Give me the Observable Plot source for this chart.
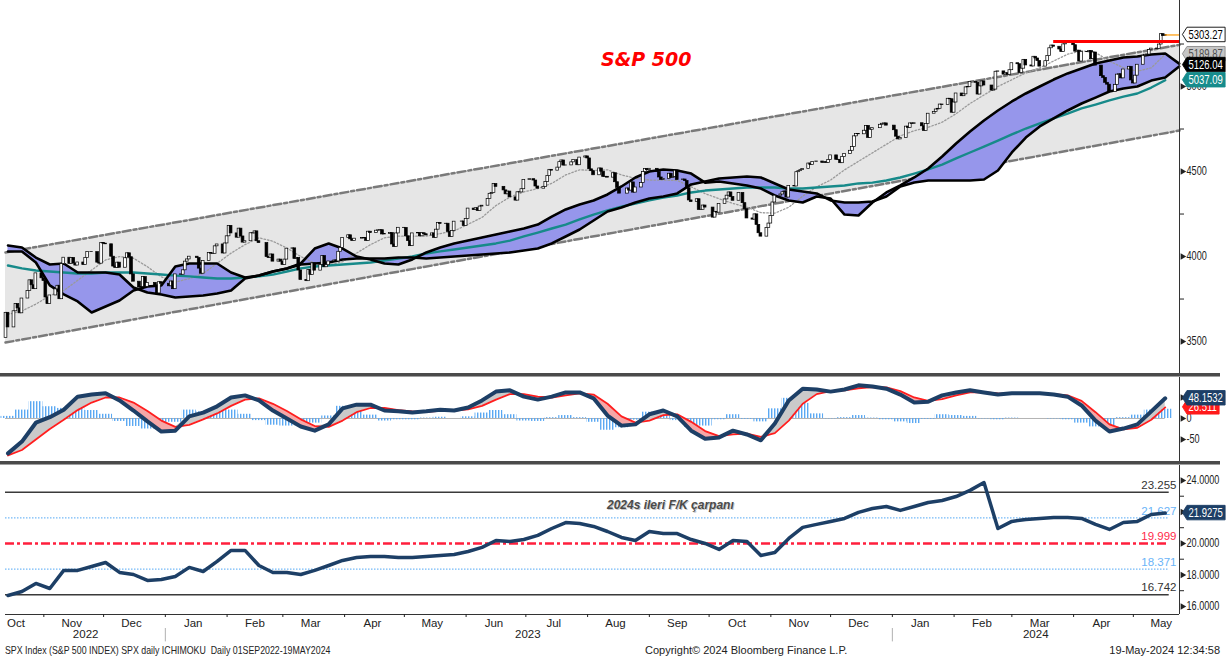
<!DOCTYPE html>
<html><head><meta charset="utf-8">
<script src="https://cdn.jsdelivr.net/npm/d3@7"></script>
<script src="https://cdn.jsdelivr.net/npm/@observablehq/plot@0.6"></script>
<style>
body{margin:0;background:#fff;}
#chart{position:relative;width:1230px;height:666px;overflow:hidden;background:#fff;
 font-family:"Liberation Sans",sans-serif;color:#222;}
.panel{position:absolute;left:0;width:1230px;}
.sep{position:absolute;left:0;width:1220px;height:3px;background:#4a4a4a;border-bottom:1px solid #a0a0a0;}
.title{position:absolute;left:601px;top:48px;font:italic bold 19px "DejaVu Sans",sans-serif;color:#ff0000;}
.petitle{position:absolute;left:607px;top:498px;font-style:italic;font-weight:bold;font-size:12px;color:#4a4a4a;text-shadow:1px 1px 0 #c8c8c8;}
.foot{position:absolute;top:644px;font-size:11px;color:#222;white-space:pre;}
</style></head>
<body><div id="chart">
<div id="p1" class="panel" style="top:0"></div>
<div id="p2" class="panel" style="top:377px"></div>
<div id="p3" class="panel" style="top:465px"></div>
<div class="sep" style="top:373px"></div>
<div class="sep" style="top:461px"></div>
<div class="title">S&amp;P 500</div>
<div class="petitle">2024s ileri F/K çarpanı</div>
<div class="foot" style="left:5px;transform:scaleX(0.8);transform-origin:0 0">SPX Index (S&amp;P 500 INDEX) SPX daily ICHIMOKU  Daily 01SEP2022-19MAY2024</div>
<div class="foot" style="left:645px">Copyright© 2024 Bloomberg Finance L.P.</div>
<div class="foot" style="right:10px">19-May-2024 12:34:58</div>
</div>
<script>
// ---------------- DATA ----------------
const holidays = ["2022-11-24","2022-12-26","2023-01-02","2023-01-16","2023-02-20","2023-04-07","2023-05-29","2023-06-19","2023-07-04","2023-09-04","2023-11-23","2023-12-25","2024-01-01","2024-01-15","2024-02-19","2024-03-29"];
const firstDay = "2022-10-13";
const firstOpen = 3520;
// daily closes, month by month
const closes = [
 3669,3583,3678,3720,3695,3666,3753,3798,3860,3831,3808,3901,3872,
 3856,3759,3720,3771,3807,3828,3749,3956,3993,3957,3992,3959,3947,3965,3950,3992,4027,4026,3964,3958,4080,
 4076,4072,3999,3941,3933,3964,3934,3990,4019,3996,3895,3852,3818,3821,3879,3822,3845,3829,3783,3849,3840,
 3825,3853,3808,3895,3893,3919,3970,3983,3999,3991,3929,3899,3973,4020,4017,4016,4060,4071,4018,4077,
 4119,4180,4136,4111,4164,4118,4082,4090,4137,4136,4148,4090,4079,3997,3991,4012,3970,3982,3970,
 3951,3982,4046,4048,3986,3992,3918,3862,3855,3920,3892,3960,3917,3951,4003,3937,3949,3971,3977,3971,4028,4051,4109,
 4125,4101,4091,4105,4109,4108,4092,4146,4138,4152,4154,4155,4130,4133,4138,4071,4056,4136,4169,
 4168,4119,4091,4061,4136,4138,4119,4137,4131,4124,4136,4110,4158,4198,4192,4193,4145,4115,4151,4205,4206,4180,
 4221,4282,4273,4284,4268,4294,4299,4338,4369,4373,4426,4410,4389,4366,4382,4348,4329,4378,4377,4396,4450,
 4455,4447,4412,4399,4410,4439,4473,4510,4505,4523,4555,4565,4535,4536,4554,4567,4567,4537,4582,4589,
 4577,4513,4502,4478,4518,4499,4468,4469,4464,4490,4437,4404,4370,4370,4400,4388,4436,4376,4406,4433,4498,4515,4508,
 4516,4497,4465,4451,4457,4487,4462,4468,4505,4450,4453,4444,4402,4330,4320,4337,4274,4275,4300,4288,
 4288,4229,4263,4258,4309,4336,4358,4377,4350,4328,4374,4374,4314,4278,4224,4217,4248,4186,4137,4117,4167,4194,
 4238,4318,4358,4365,4378,4383,4347,4415,4412,4496,4502,4508,4514,4547,4538,4556,4559,4551,4555,4551,4568,
 4595,4569,4567,4549,4585,4604,4622,4644,4707,4720,4719,4740,4768,4698,4746,4755,4775,4781,4783,4770,
 4743,4705,4689,4697,4764,4757,4783,4780,4784,4766,4739,4780,4840,4851,4865,4869,4894,4891,4928,4925,4846,
 4906,4959,4943,4954,4995,4998,5027,5022,4953,5001,5030,5006,4976,4982,5087,5089,5070,5078,5069,5096,
 5137,5131,5079,5105,5157,5124,5118,5175,5165,5150,5117,5149,5179,5225,5241,5234,5218,5203,5248,5254,
 5243,5205,5211,5147,5204,5202,5209,5161,5200,5123,5061,5051,5022,5011,4967,5010,5070,5072,5048,5100,5116,5036,
 5018,5064,5128,5181,5187,5188,5214,5223,5221,5247,5308,5297,5303.27
];
// weekly readings (Fridays from weekStart)
const weekStart = "2022-10-14";
const spanA = [4030,4030,3965,3830,3777,3736,3671,3706,3741,3800,
 3824,3830,3941,3959,3959,3959,3906,3877,3888,3912,
 3930,3959,4047,4077,4047,4000,3983,3959,3953,3983,
 4024,4053,4077,4094,4112,4130,4147,4165,4188,4235,
 4277,4306,4330,4365,4412,4465,4500,4512,4506,4488,
 4435,4441,4430,4418,4400,4359,4330,4318,4353,4341,
 4247,4241,4318,4377,4418,4465,4518,4588,4665,4735,
 4800,4859,4912,4959,5000,5041,5077,5106,5135,5153,
 5171,5177,5188,5194,5135];
const spanB = [4065,4053,3994,3953,3959,3906,3906,3906,3894,3818,
 3788,3777,3759,3765,3771,3783,3800,3871,3888,3912,
 3930,3953,3959,3965,3983,3988,3988,3988,3994,3994,
 3988,3994,4000,4006,4012,4018,4024,4036,4047,4077,
 4118,4159,4212,4265,4288,4318,4341,4353,4371,4424,
 4441,4459,4465,4471,4465,4430,4394,4383,4371,4330,
 4318,4318,4324,4353,4412,4435,4447,4447,4447,4447,
 4453,4506,4612,4700,4765,4812,4859,4900,4935,4971,
 4988,5000,5035,5053,5118];
const ma100 = [3947,3930,3918,3912,3906,3900,3900,3906,3906,3906,
 3900,3894,3888,3883,3877,3871,3871,3877,3883,3894,
 3912,3930,3941,3947,3953,3959,3965,3977,3988,4000,
 4018,4030,4041,4053,4065,4077,4094,4118,4141,4165,
 4188,4218,4247,4271,4294,4312,4330,4347,4359,4377,
 4388,4394,4400,4406,4406,4406,4400,4400,4406,4412,
 4418,4430,4435,4447,4465,4488,4512,4541,4577,4612,
 4647,4682,4718,4753,4783,4812,4841,4871,4894,4918,
 4941,4959,4994,5037.09];
const maDotted = [3660,3680,3720,3770,3800,3860,3920,3980,4000,3990,
 3940,3880,3850,3870,3900,3960,4020,4070,4110,4090,
 4050,4000,3960,3950,3970,4020,4070,4110,4120,4120,
 4120,4135,4150,4190,4230,4300,4350,4380,4400,4430,
 4480,4510,4506,4510,4480,4460,4450,4450,4447,4410,
 4370,4340,4312,4290,4258,4255,4290,4355,4410,4450,
 4510,4560,4610,4660,4710,4740,4760,4790,4840,4900,
 4950,5000,5040,5080,5110,5150,5190,5210,5200,5150,
 5110,5090,5110,5189.87];
const macdLine = [-83,-55,-10,3,21,52,57,60,43,19,
 -7,-31,-29,5,14,29,50,55,43,19,
 0,-19,-29,-14,24,33,33,19,17,14,
 17,21,19,26,43,64,67,52,45,52,
 62,62,48,7,-17,-14,10,19,5,-29,
 -48,-45,-29,-38,-52,-12,43,71,69,64,
 69,79,76,71,57,38,40,55,62,67,
 62,57,60,60,60,57,52,31,-5,-31,
 -24,-14,17,48.1532];
const signalLine = [-88,-75,-50,-25,-3,20,38,50,50,38,
 18,-5,-20,-15,-2,12,30,45,48,35,
 18,-2,-18,-20,-5,15,25,25,20,17,
 16,18,19,22,30,45,58,58,52,50,
 55,60,57,35,5,-10,-5,8,10,-8,
 -30,-42,-38,-36,-44,-35,-5,35,58,65,
 67,72,75,74,65,50,42,46,55,62,
 63,60,59,60,60,58,55,42,15,-14,
 -26,-22,-3,26.511];
const macdHist = [5,20,40,28,24,32,19,10,-7,-19,
 -25,-26,-9,20,16,17,20,10,-5,-16,
 -18,-17,-11,6,29,18,8,-6,-3,-3,
 1,3,0,4,13,19,9,-6,-7,2,
 7,2,-9,-28,-22,-4,15,11,-5,-21,
 -18,-3,9,-2,-8,23,48,36,11,-1,
 2,7,1,-3,-8,-12,-2,9,7,5,
 -1,-3,1,0,0,-1,-3,-11,-20,-17,
 2,8,20,22];
const peRatio = [16.70,16.95,17.46,17.14,18.29,18.29,18.54,18.79,18.16,18.03,
 17.65,17.71,17.90,18.48,18.22,18.86,19.56,19.56,18.60,18.16,
 18.16,18.03,18.29,18.60,18.92,19.11,19.17,19.17,19.11,19.11,
 19.17,19.24,19.30,19.49,19.75,20.19,20.13,20.25,20.51,20.95,
 21.33,21.27,21.08,20.76,20.38,20.19,20.76,20.63,20.63,20.25,
 20.00,19.62,20.19,20.13,19.24,19.43,20.32,21.02,21.21,21.40,
 21.59,21.97,22.22,22.35,22.10,22.35,22.60,22.73,22.98,23.37,
 23.87,20.95,21.40,21.52,21.59,21.65,21.65,21.59,21.21,20.89,
 21.33,21.40,21.84,21.9275];
const peLevels = [23.255, 21.627, 19.999, 18.371, 16.742];
const peLevelColors = ["#333333", "#6ab4f8", "#ff2a4a", "#6ab4f8", "#333333"];
const channelUpper = [4024, 5245];
const channelLower = [3494, 4741];
const resistance = 5264.85;
const resistanceStart = "2024-03-22";
const priceTicks = [3500, 4000, 4500, 5000];
const priceMinorTicks = [3750, 4250, 4750, 5250];
const macdTicks = [-50, 0, 50];
const peTicks = [16, 18, 20, 22, 24];
const peMinorTicks = [17, 19, 21, 23];
const priceLabels = [
 {value: 5303.27, bg: "#ffffff", fg: "#000000", border: "#000000"},
 {value: 5189.87, bg: "#c6c6c6", fg: "#505050", border: "#8a8a8a"},
 {value: 5126.04, bg: "#000000", fg: "#ffffff", border: "#000000"},
 {value: 5037.09, bg: "#168c8c", fg: "#ffffff", border: "#168c8c"}
];
const macdLabels = [
 {value: 26.511, bg: "#ff1a1a", fg: "#ffffff", border: "#ff1a1a"},
 {value: 48.1532, bg: "#1d3f66", fg: "#ffffff", border: "#1d3f66"}
];
const peLabels = [{value: 21.9275, bg: "#1d3f66", fg: "#ffffff", border: "#1d3f66"}];
const yearLabels = ["2022", "2023", "2024"];
const yearLabelDates = ["2022-11-22", "2023-07-02", "2024-03-13"];
const yearStarts = ["2023-01-01", "2024-01-01"];

// ---------------- BUILD ----------------
const NS = "http://www.w3.org/2000/svg";
const DAY = 864e5;
const FONT = '"Liberation Sans",sans-serif';
const W = 1230, ML = 5, MR = 51;
const xDomain = [new Date(Date.UTC(2022,9,12,18)), new Date(Date.UTC(2024,4,24,4))];
const utc = s => new Date(s + "T00:00:00Z");

const hol = new Set(holidays);
const days = [];
for (let t = Date.parse(firstDay + "T00:00:00Z"); days.length < closes.length; t += DAY) {
  const d = new Date(t), wd = d.getUTCDay();
  if (wd !== 0 && wd !== 6 && !hol.has(d.toISOString().slice(0,10))) days.push(d);
}
const candles = closes.map((c, i) => ({date: days[i], open: i ? closes[i-1] : firstOpen, close: c}));
const lastDate = days[days.length - 1];
const weekDates = spanA.map((_, i) => new Date(Date.parse(weekStart + "T00:00:00Z") + i * 7 * DAY));
const cloud = spanA.map((a, i) => ({date: weekDates[i], a, b: spanB[i]}));
const wk = macdLine.map((_, i) => ({date: weekDates[i], ma: ma100[i], dot: maDotted[i], macd: macdLine[i],
  signal: signalLine[i], hist: macdHist[i], pe: peRatio[i]}));
const channel = xDomain.map((date, i) => ({date, upper: channelUpper[i], lower: channelLower[i]}));
const style = {fontFamily: FONT, fontSize: "12px", color: "#222", background: "transparent", overflow: "visible"};

function rightAxis(ticks, minor, fmt) {
  return [
    Plot.axisY({anchor: "right", ticks, tickSize: 0, tickPadding: 7, tickFormat: fmt, fontSize: 12}),
    Plot.axisY({anchor: "right", ticks: minor, tickSize: 4, tickFormat: () => ""}),
    Plot.dot(ticks, {y: d => d, frameAnchor: "right", dx: 3, symbol: "triangle", r: 2.4, rotate: 90, fill: "#222", stroke: "none"}),
    Plot.ruleX([xDomain[1]], {stroke: "#333", strokeWidth: 1})
  ];
}
function valueLabels(specs) {
  return Plot.text(specs, {y: "value", text: d => String(d.value), frameAnchor: "right", dx: 9, textAnchor: "start",
    fill: "fg", fontSize: 12.5});
}
// narrow the texts that sit in the right-hand margin (Bloomberg's condensed face), scaling about each text's anchor
function condenseRight(svg, k) {
  const left = svg.getBoundingClientRect().left;
  svg.querySelectorAll("text").forEach(t => {
    if (t.getBoundingClientRect().left - left < W - MR) return;
    const x = parseFloat(t.getAttribute("x")) || 0;
    const tr = t.getAttribute("transform") || "";
    t.setAttribute("transform", `${tr} translate(${x},0) scale(${k},1) translate(${-x},0)`);
  });
}
function boxLabels(svg, specs) {
  const all = Array.from(svg.querySelectorAll("text"));
  specs.forEach(s => {
    const t = all.find(e => e.textContent === String(s.value));
    if (!t) return;
    const b = t.getBBox();
    const x0 = b.x - 2, x1 = b.x + b.width + 3, y0 = b.y - 0.5, y1 = b.y + b.height + 0.5, ym = (y0 + y1) / 2;
    const p = document.createElementNS(NS, "path");
    p.setAttribute("d", `M${x0 - 6},${ym}L${x0},${y0}L${x1},${y0}L${x1},${y1}L${x0},${y1}Z`);
    p.setAttribute("fill", s.bg); p.setAttribute("stroke", s.border); p.setAttribute("stroke-width", "1");
    const tr = t.getAttribute("transform"); if (tr) p.setAttribute("transform", tr);
    t.parentNode.insertBefore(p, t);
  });
}

// ---- price panel ----
const price = Plot.plot({
  width: W, height: 373, marginLeft: ML, marginRight: MR, marginTop: 0, marginBottom: 0, style,
  x: {type: "utc", domain: xDomain, axis: null},
  y: {domain: [3312, 5506]},
  marks: [
    Plot.areaY(channel, {x: "date", y1: "lower", y2: "upper", fill: "#e6e6e6"}),
    Plot.line(channel, {x: "date", y: "upper", stroke: "#7a7a7a", strokeWidth: 2.5, strokeDasharray: "8,3,3,3"}),
    Plot.line(channel, {x: "date", y: "lower", stroke: "#7a7a7a", strokeWidth: 2.5, strokeDasharray: "8,3,3,3"}),
    Plot.areaY(cloud, {x: "date", y1: "a", y2: "b", fill: "#9696eb"}),
    Plot.line(wk, {x: "date", y: "dot", stroke: "#9a9a9a", strokeWidth: 1.3, strokeDasharray: "1.5,2"}),
    Plot.line(wk, {x: "date", y: "ma", stroke: "#178a8a", strokeWidth: 2.4}),
    Plot.line(cloud, {x: "date", y: "a", stroke: "#000", strokeWidth: 2.6}),
    Plot.line(cloud, {x: "date", y: "b", stroke: "#000", strokeWidth: 2.6}),
    Plot.rect(candles, {x1: d => new Date(+d.date - 6e7), x2: d => new Date(+d.date + 6e7), y1: "open", y2: "close",
      fill: d => d.close >= d.open ? "#ffffff" : "#000000", stroke: "#000", strokeWidth: 0.7}),
    Plot.ruleY([resistance], {x1: () => utc(resistanceStart), x2: () => xDomain[1], stroke: "#ff0000", strokeWidth: 3}),
    Plot.ruleY([closes[closes.length - 1]], {x1: () => lastDate, x2: () => xDomain[1], stroke: "#ff9900", strokeWidth: 1.2}),
    ...rightAxis(priceTicks, priceMinorTicks, d => String(d)),
    valueLabels(priceLabels)
  ]
});
document.getElementById("p1").appendChild(price);
condenseRight(price, 0.76);
boxLabels(price, priceLabels);

// ---- MACD panel ----
const macd = Plot.plot({
  width: W, height: 84, marginLeft: ML, marginRight: MR, marginTop: 0, marginBottom: 0, style,
  x: {type: "utc", domain: xDomain, axis: null},
  y: {domain: [-102.4, 97.6]},
  marks: [
    Plot.ruleY([0], {x1: () => xDomain[0], x2: () => lastDate, stroke: "#b4b4b4", strokeWidth: 1}),
    Plot.rect(wk, {x1: d => new Date(+d.date - 3.5 * DAY), x2: d => new Date(+d.date + 3.5 * DAY), y1: 0, y2: "hist", fill: "url(#histStripes)"}),
    Plot.areaY(wk, {x: "date", y1: "signal", y2: d => Math.max(d.macd, d.signal), fill: "#cacaca"}),
    Plot.areaY(wk, {x: "date", y1: "signal", y2: d => Math.min(d.macd, d.signal), fill: "#f6a7a7"}),
    Plot.line(wk, {x: "date", y: "signal", stroke: "#ff1e1e", strokeWidth: 1.8}),
    Plot.line(wk, {x: "date", y: "macd", stroke: "#1d3f66", strokeWidth: 4}),
    ...rightAxis(macdTicks, [], d => String(d)),
    valueLabels(macdLabels)
  ]
});
document.getElementById("p2").appendChild(macd);
const defs = document.createElementNS(NS, "defs");
defs.innerHTML = '<pattern id="histStripes" patternUnits="userSpaceOnUse" width="3" height="4"><rect x="0" y="0" width="1.4" height="4" fill="#5aa8f2"/></pattern>';
macd.insertBefore(defs, macd.firstChild);
condenseRight(macd, 0.76);
boxLabels(macd, macdLabels);

// ---- P/E panel ----
const peEnd = utc("2024-05-19");
const monthStarts = d3.utcMonth.range(utc("2022-11-01"), utc("2024-06-01"));
const monthMids = [utc("2022-10-18"), ...monthStarts.map(m => new Date(+m + 14 * DAY))];
const pe = Plot.plot({
  width: W, height: 181, marginLeft: ML, marginRight: MR, marginTop: 0, marginBottom: 32, style,
  x: {type: "utc", domain: xDomain},
  y: {domain: [15.49, 24.95]},
  marks: [
    Plot.ruleY([peLevels[0], peLevels[4]], {x1: () => xDomain[0], x2: () => peEnd, stroke: "#3a3a3a", strokeWidth: 1.4}),
    Plot.ruleY([peLevels[1], peLevels[3]], {x1: () => xDomain[0], x2: () => peEnd, stroke: "#74b9f7", strokeWidth: 1.3, strokeDasharray: "1.5,1.5"}),
    Plot.ruleY([peLevels[2]], {x1: () => xDomain[0], x2: () => peEnd, stroke: "#ff1f3d", strokeWidth: 2.5, strokeDasharray: "9,3,3,3"}),
    Plot.text(peLevels, {x: () => xDomain[1], y: d => d, text: d => String(d), textAnchor: "end", dx: -3, dy: -7,
      fill: (d, i) => peLevelColors[i], fontSize: 11.5}),
    Plot.line(wk, {x: "date", y: "pe", stroke: "#1d3f66", strokeWidth: 3.5}),
    Plot.ruleY([15.49], {stroke: "#333", strokeWidth: 1}),
    Plot.axisX({ticks: monthStarts, tickSize: 3, tickFormat: () => ""}),
    Plot.axisX({ticks: monthMids, tickSize: 0, tickPadding: 4, tickFormat: "%b", fontSize: 11.5}),
    Plot.text(yearLabels, {x: (d, i) => utc(yearLabelDates[i]), text: d => d, frameAnchor: "bottom", dy: 23, fontSize: 11.5}),
    Plot.ruleX(yearStarts, {x: d => utc(d), y1: 14.6, y2: 13.75, stroke: "#b0b0b0"}),
    ...rightAxis(peTicks, peMinorTicks, d => d.toFixed(4)),
    valueLabels(peLabels)
  ]
});
document.getElementById("p3").appendChild(pe);
condenseRight(pe, 0.76);
boxLabels(pe, peLabels);
</script>
</body></html>
